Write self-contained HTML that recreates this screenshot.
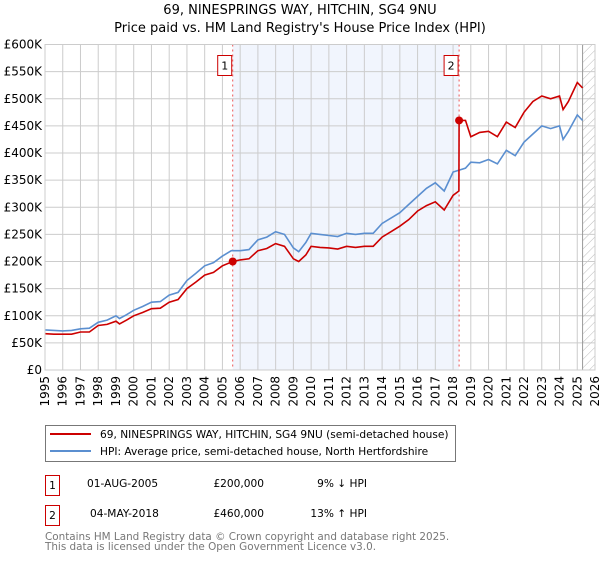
<!DOCTYPE html>
<html><head><meta charset="utf-8"><style>
body{margin:0;background:#fff;font-family:"DejaVu Sans","Liberation Sans",sans-serif}
svg text{font-family:"DejaVu Sans","Liberation Sans",sans-serif}
</style></head><body>
<svg id="c" width="600" height="560" xmlns="http://www.w3.org/2000/svg">
<defs><pattern id="hatch" width="6" height="6" patternUnits="userSpaceOnUse" patternTransform="rotate(45)"><line x1="0" y1="0" x2="0" y2="6" stroke="#bbb" stroke-width="1"/></pattern></defs>
<text x="300" y="14" text-anchor="middle" font-size="13">69, NINESPRINGS WAY, HITCHIN, SG4 9NU</text>
<text x="300" y="32" text-anchor="middle" font-size="13">Price paid vs. HM Land Registry's House Price Index (HPI)</text>
<g id="plot"></g>
<g>
<rect x="45.5" y="425.5" width="410" height="36" fill="#fff" stroke="#777"/>
<line x1="50" y1="434" x2="91" y2="434" stroke="#cc0000" stroke-width="2"/>
<text x="100" y="438" font-size="10.6">69, NINESPRINGS WAY, HITCHIN, SG4 9NU (semi-detached house)</text>
<line x1="50" y1="451" x2="91" y2="451" stroke="#5b8fd0" stroke-width="2"/>
<text x="100" y="455" font-size="10.6">HPI: Average price, semi-detached house, North Hertfordshire</text>
</g>
<g font-size="10.6">
<rect x="45.5" y="475.5" width="14" height="20" fill="#fff" stroke="#cc0000"/><text x="52.5" y="489" text-anchor="middle">1</text>
<text x="87" y="487">01-AUG-2005</text><text x="264" y="487" text-anchor="end">£200,000</text><text x="367" y="487" text-anchor="end">9% ↓ HPI</text>
<rect x="45.5" y="505.5" width="14" height="20" fill="#fff" stroke="#cc0000"/><text x="52.5" y="519" text-anchor="middle">2</text>
<text x="90" y="517">04-MAY-2018</text><text x="264" y="517" text-anchor="end">£460,000</text><text x="367" y="517" text-anchor="end">13% ↑ HPI</text>
</g>
<text x="45" y="540" font-size="10.4" fill="#777">Contains HM Land Registry data © Crown copyright and database right 2025.</text>
<text x="45" y="550" font-size="10.4" fill="#777">This data is licensed under the Open Government Licence v3.0.</text>
</svg>
<script>
const hpiYears=[1995,1995.5,1996,1996.5,1997,1997.5,1998,1998.5,1999,1999.2,1999.6,2000,2000.5,2001,2001.5,2002,2002.5,2003,2003.5,2004,2004.5,2005,2005.5,2006,2006.5,2007,2007.5,2008,2008.5,2009,2009.3,2009.7,2010,2010.5,2011,2011.5,2012,2012.5,2013,2013.5,2014,2014.5,2015,2015.5,2016,2016.5,2017,2017.5,2018,2018.3,2018.7,2019,2019.5,2020,2020.5,2021,2021.5,2022,2022.5,2023,2023.5,2024,2024.2,2024.5,2025,2025.3];
const hpiValues=[74,73,72,73,76,77,88,92,100,95,102,110,117,125,126,138,143,165,178,192,198,210,220,220,222,240,245,255,250,225,218,235,252,250,248,246,252,250,252,252,270,280,290,305,320,335,345,330,365,368,372,383,382,388,380,405,395,420,435,450,445,450,425,440,470,460];
const priceYears=[1995,1995.5,1996,1996.5,1997,1997.5,1998,1998.5,1999,1999.2,1999.6,2000,2000.5,2001,2001.5,2002,2002.5,2003,2003.5,2004,2004.5,2005,2005.58,2006,2006.5,2007,2007.5,2008,2008.5,2009,2009.3,2009.7,2010,2010.5,2011,2011.5,2012,2012.5,2013,2013.5,2014,2014.5,2015,2015.5,2016,2016.5,2017,2017.5,2018,2018.33,2018.34,2018.7,2019,2019.5,2020,2020.5,2021,2021.5,2022,2022.5,2023,2023.5,2024,2024.2,2024.5,2025,2025.3];
const priceValues=[67,66,66,66,70,70,82,84,90,85,92,100,106,113,114,125,130,150,162,175,180,192,200,203,205,220,224,233,228,205,200,212,228,226,225,223,228,226,228,228,245,255,265,277,293,303,310,295,322,330,460,460,430,438,440,430,457,447,475,495,505,500,505,480,495,530,520];
const sales=[{n:"1",year:2005.58,value:200},{n:"2",year:2018.34,value:460}];
const yTicks=[0,50,100,150,200,250,300,350,400,450,500,550,600];
const yTickLabels=["£0","£50K","£100K","£150K","£200K","£250K","£300K","£350K","£400K","£450K","£500K","£550K","£600K"];
const xTicks=[1995,1996,1997,1998,1999,2000,2001,2002,2003,2004,2005,2006,2007,2008,2009,2010,2011,2012,2013,2014,2015,2016,2017,2018,2019,2020,2021,2022,2023,2024,2025,2026];

const NS="http://www.w3.org/2000/svg";
const L=45,R=595,T=44.5,B=370;
const xs=y=>L+(y-1995)/(2026-1995)*(R-L);
const ys=v=>B-v/600*(B-T);
const g=document.getElementById('plot');
function mk(tag,attrs,parent){const e=document.createElementNS(NS,tag);for(const k in attrs)e.setAttribute(k,attrs[k]);(parent||g).appendChild(e);return e;}
let sh=mk('rect',{x:xs(sales[0].year),y:T,width:xs(sales[1].year)-xs(sales[0].year),height:B-T,fill:'#eef3fd',opacity:0.8});


let ht=mk('rect',{x:xs(2025.3),y:T,width:R-xs(2025.3),height:B-T,fill:'url(#hatch)'});


xTicks.forEach(t=>{mk('line',{x1:xs(t),x2:xs(t),y1:T,y2:B,stroke:'#ccc','stroke-width':1});
 let tx=mk('text',{x:0,y:0,'font-size':12,'text-anchor':'end',transform:`translate(${xs(t)+4},${B+6}) rotate(-90)`});tx.textContent=t;
 
 });
yTicks.forEach((t,i)=>{mk('line',{x1:L,x2:R,y1:ys(t),y2:ys(t),stroke:'#ccc','stroke-width':1});
 let tx=mk('text',{x:L-3,y:ys(t)+4,'font-size':12,'text-anchor':'end'});tx.textContent=yTickLabels[i];
 
 });
mk('line',{x1:xs(2025.3),x2:xs(2025.3),y1:T,y2:B,stroke:'#999','stroke-width':1});
sales.forEach(s=>{let l=mk('line',{x1:xs(s.year),x2:xs(s.year),y1:T,y2:B,stroke:'#e55','stroke-width':1,'stroke-dasharray':'2,3'});
 
 
 let bx=mk('rect',{x:xs(s.year)-15,y:T+11,width:14,height:20,fill:'#fff',stroke:'#cc0000'});
 
 
 let t=mk('text',{x:xs(s.year)-8,y:T+25,'font-size':11,'text-anchor':'middle'});t.textContent=s.n;});
function line(xa,va,color,name){let d=xa.map((x,i)=>(i?'L':'M')+xs(x).toFixed(1)+','+ys(va[i]).toFixed(1)).join('');
 let p=mk('path',{d:d,fill:'none',stroke:color,'stroke-width':1.6});
 
 }
line(hpiYears,hpiValues,'#5b8fd0','hpi-line');
line(priceYears,priceValues,'#cc0000','price-line');
sales.forEach(s=>{let c=mk('circle',{cx:xs(s.year),cy:ys(s.value),r:4,fill:'#cc0000'});
 
 });
mk('rect',{x:L,y:T,width:R-L,height:B-T,fill:'none',stroke:'#ccc'});
</script>
</body></html>
